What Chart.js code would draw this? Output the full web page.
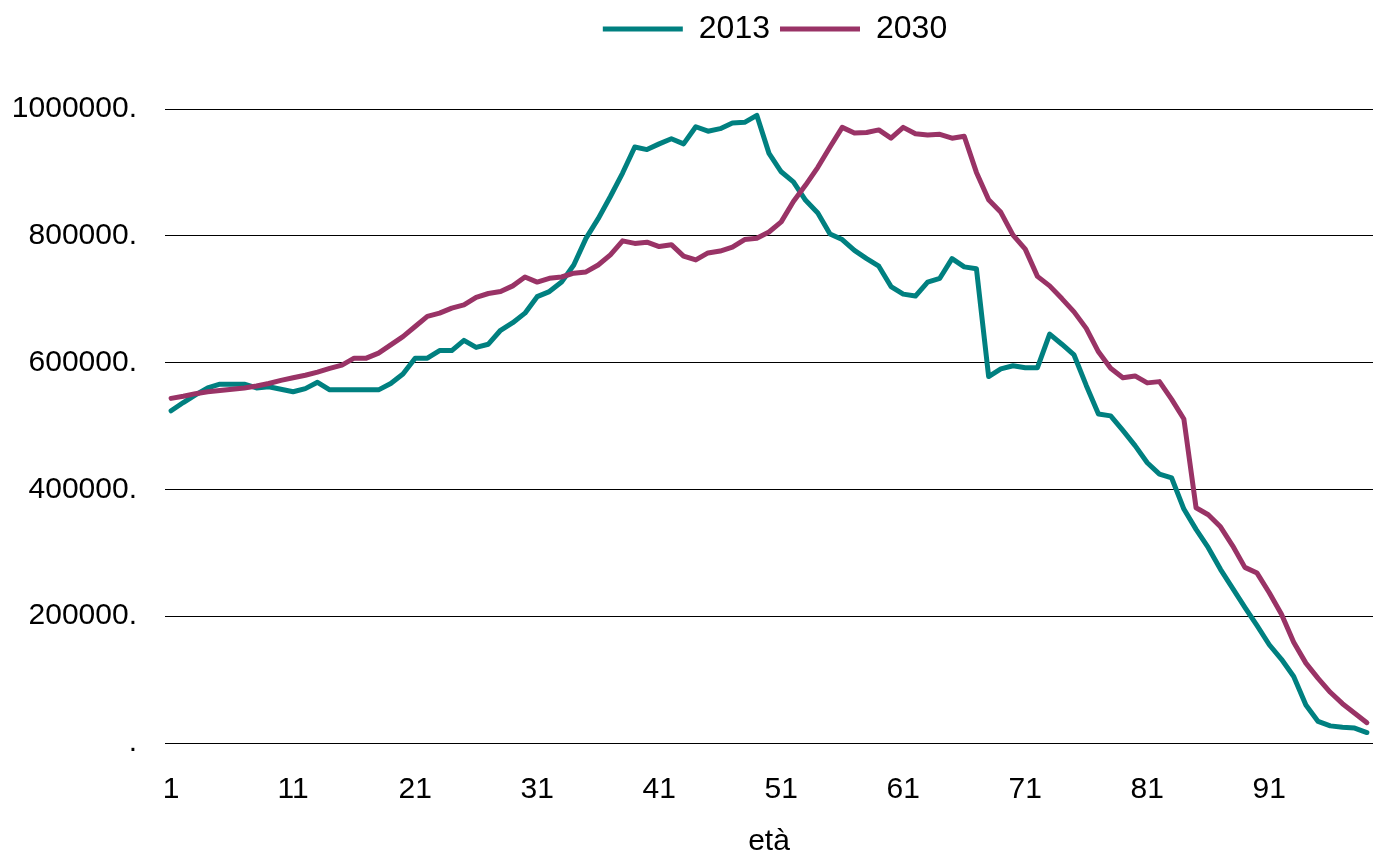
<!DOCTYPE html>
<html><head><meta charset="utf-8">
<script src="https://cdn.jsdelivr.net/npm/chart.js@4/dist/chart.umd.min.js"></script>
<style>html,body{margin:0;padding:0;background:#fff;overflow:hidden}</style>
</head><body>
<canvas id="c" width="1373" height="857"></canvas>
<script>
const ages = [1,2,3,4,5,6,7,8,9,10,11,12,13,14,15,16,17,18,19,20,21,22,23,24,25,26,27,28,29,30,31,32,33,34,35,36,37,38,39,40,41,42,43,44,45,46,47,48,49,50,51,52,53,54,55,56,57,58,59,60,61,62,63,64,65,66,67,68,69,70,71,72,73,74,75,76,77,78,79,80,81,82,83,84,85,86,87,88,89,90,91,92,93,94,95,96,97,98,99];

const pop2013 = [524000,537000,549000,560000,566000,566000,566000,560000,562000,558000,
  554000,559000,569000,557000,557000,557000,557000,557000,567000,582000,
  607000,607000,619000,619000,635000,624000,629000,651000,663000,678000,
  704000,712000,727000,754000,796000,827000,862000,899000,940000,936000,
  945000,953000,945000,972000,965000,969000,978000,979000,990000,930000,
  901000,885000,856000,836000,803000,794000,777000,764000,752000,720000,
  708000,705000,727000,733000,764000,751000,748000,578000,590000,595000,
  592000,592000,645000,629000,612000,564000,519000,516000,493000,469000,
  442000,424000,418000,369000,337000,308000,274000,244000,214000,185000,
  155000,132000,105000,60000,34000,27000,25000,23500,16500];

const pop2030 = [543600,547000,551000,554000,556000,558000,560000,563000,567000,572000,
  576000,580000,585000,591000,596000,607000,607000,615000,628000,641000,
  657000,673000,678000,686000,691000,703000,709000,712000,721000,735000,
  727000,733000,735000,741000,743000,754000,770000,792000,788000,790000,
  783000,786000,768000,762000,773000,776000,782000,794000,796000,806000,
  822000,854000,880000,908000,940000,971000,962000,963000,967000,954000,
  971000,961000,959000,960000,954000,957000,900000,857000,837000,801000,
  779000,736000,721000,701000,680000,654000,617000,591000,576000,579000,
  568000,570000,542000,511000,371000,360000,341000,311000,277000,268000,
  237000,203000,159000,126000,102000,80000,62000,47000,32000];

const seriesNames = ['2013', '2030'];
const xTickLabels = ['1','11','21','31','41','51','61','71','81','91'];
const yTickValues = [0, 200000, 400000, 600000, 800000, 1000000];
const yTickTexts = ['.', '200000.', '400000.', '600000.', '800000.', '1000000.'];
const xTitle = 'età';

const FONT = "'Liberation Sans', Arial, sans-serif";
Chart.defaults.color = '#000';
Chart.defaults.font.family = FONT;

const legendTweak = {
  id: 'legendTweak',
  beforeInit(chart) {
    const lg = chart.legend;
    const fit = lg.fit;
    lg.fit = function () { fit.call(this); this.height = 106; };
  },
  afterLayout(chart) {
    const lg = chart.legend;
    const ca = chart.chartArea;
    lg.left = ca.left + 6;
    lg.right = ca.right + 6;
    lg.width = lg.right - lg.left;
  }
};

new Chart(document.getElementById('c'), {
  type: 'line',
  data: {
    labels: ages.map(String),
    datasets: [
      { label: seriesNames[0], data: pop2013, borderColor: '#008080', backgroundColor: '#008080',
        borderWidth: 5, pointRadius: 0, tension: 0, borderJoinStyle: 'round', borderCapStyle: 'round', order: 2 },
      { label: seriesNames[1], data: pop2030, borderColor: '#993366', backgroundColor: '#993366',
        borderWidth: 5, pointRadius: 0, tension: 0, borderJoinStyle: 'round', borderCapStyle: 'round', order: 1 }
    ]
  },
  options: {
    responsive: false,
    animation: false,
    devicePixelRatio: 1,
    layout: { padding: { top: 3, left: 0, right: 0, bottom: 0 } },
    plugins: {
      tooltip: { enabled: false },
      legend: {
        position: 'top',
        labels: {
          usePointStyle: true,
          pointStyle: 'line',
          pointStyleWidth: 80,
          padding: 10,
          font: { size: 32, family: FONT, lineHeight: 1 },
          color: '#000',
          sort: (a, b) => a.datasetIndex - b.datasetIndex
        }
      }
    },
    scales: {
      x: {
        type: 'category',
        offset: true,
        grid: { display: false, drawTicks: true, tickLength: 32 },
        border: { display: false },
        ticks: {
          autoSkip: false,
          maxRotation: 0,
          padding: 0,
          font: { size: 30, family: FONT, lineHeight: 1 },
          color: '#000',
          callback: function (v, i) {
            const l = this.getLabelForValue(v);
            return xTickLabels.includes(l) ? l : '';
          }
        },
        title: {
          display: true,
          text: xTitle,
          font: { size: 30, family: FONT, lineHeight: 1 },
          color: '#000',
          padding: { top: 0, bottom: 0 }
        },
        afterFit(scale) { scale.height = 114; }
      },
      y: {
        min: 0,
        max: 1000000,
        grid: { color: '#000', lineWidth: 1, drawTicks: false },
        border: { display: false },
        ticks: {
          stepSize: 200000,
          padding: 28,
          font: { size: 30, family: FONT, lineHeight: 1 },
          color: '#000',
          callback: (v) => {
            const k = yTickValues.indexOf(v);
            return k >= 0 ? yTickTexts[k] : '';
          }
        },
        afterFit(scale) { scale.width = 165; }
      }
    }
  },
  plugins: [legendTweak]
});
</script>
</body></html>
